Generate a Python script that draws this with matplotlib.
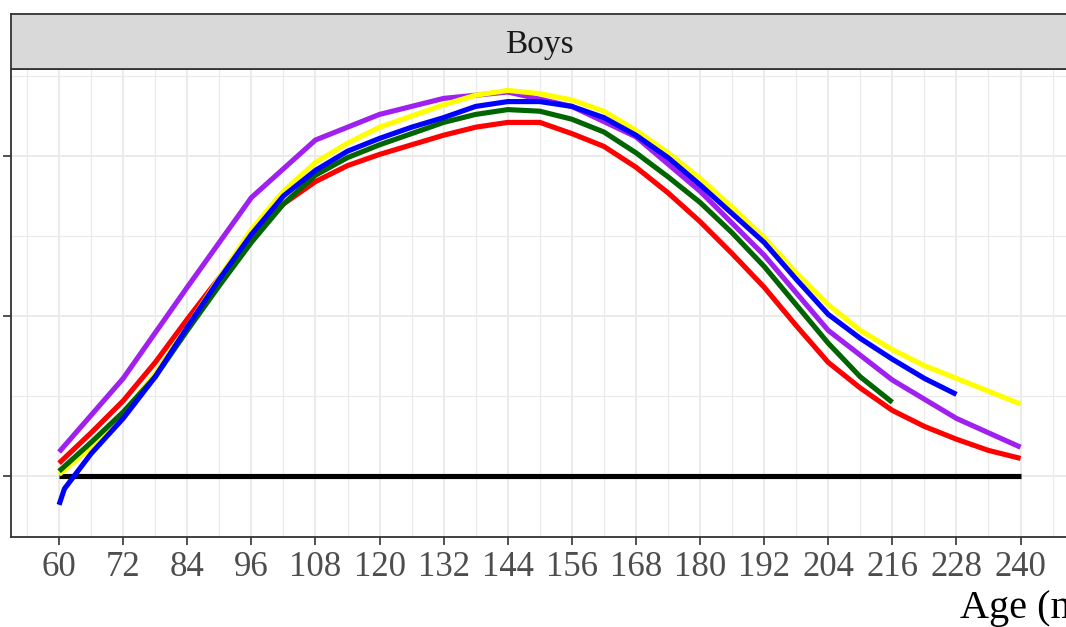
import matplotlib
matplotlib.use("Agg")
import matplotlib.pyplot as plt
import numpy as np

plt.rcParams['font.family'] = ['Liberation Serif', 'DejaVu Serif']

# ages in months
months6 = list(range(60, 241, 6))
months12 = list(range(60, 241, 12))

red = [0.08, 0.27, 0.47, 0.71, 0.98, 1.24, 1.49, 1.70, 1.84, 1.94, 2.01, 2.07,
       2.13, 2.18, 2.21, 2.21, 2.14, 2.06, 1.93, 1.77, 1.59, 1.39, 1.18, 0.94,
       0.71, 0.55, 0.41, 0.31, 0.23, 0.16, 0.11]

green_months = list(range(60, 217, 6))
green = [0.03, 0.21, 0.40, 0.62, 0.91, 1.19, 1.46, 1.70, 1.88, 1.99, 2.07, 2.14,
         2.21, 2.26, 2.29, 2.28, 2.23, 2.15, 2.02, 1.87, 1.71, 1.52, 1.31, 1.07,
         0.83, 0.62, 0.46]

yellow = [0.01, 0.18, 0.39, 0.64, 0.93, 1.24, 1.54, 1.78, 1.96, 2.08, 2.18, 2.25,
          2.32, 2.38, 2.41, 2.39, 2.35, 2.28, 2.16, 2.02, 1.86, 1.68, 1.49, 1.27,
          1.07, 0.91, 0.79, 0.69, 0.61, 0.53, 0.45]

blue_months = [60, 61] + list(range(66, 229, 6))
blue = [-0.18, -0.08, 0.14, 0.36, 0.62, 0.93, 1.23, 1.51, 1.75, 1.91, 2.03, 2.11,
        2.18, 2.24, 2.31, 2.34, 2.34, 2.31, 2.24, 2.13, 1.99, 1.82, 1.64, 1.46,
        1.23, 1.01, 0.86, 0.73, 0.61, 0.51]

purple = [0.15, 0.61, 1.18, 1.74, 2.10, 2.26, 2.36, 2.40, 2.31, 2.12, 1.78, 1.38,
          0.91, 0.60, 0.36, 0.18]

reference = [0, 0]
reference_months = [60, 240]

W, H = 1066, 627
fig = plt.figure(figsize=(W / 100, H / 100), dpi=100)

# panel (cropped on the right, as in the original)
ax = fig.add_axes([11 / W, (H - 537) / H, (1068.6 - 11) / W, (537 - 69) / H])
ax.set_facecolor('white')

lw = 3.7
ax.plot(reference_months, reference, color='black', lw=lw, solid_capstyle='butt', zorder=3)
ax.plot(months12, purple, color='#A020F0', lw=lw, solid_capstyle='butt', zorder=3)
ax.plot(months6, red, color='#FF0000', lw=lw, solid_capstyle='butt', zorder=3)
ax.plot(months6, yellow, color='#FFFF00', lw=lw, solid_capstyle='butt', zorder=3)
ax.plot(green_months, green, color='#006400', lw=lw, solid_capstyle='butt', zorder=3)
ax.plot(blue_months, blue, color='#0000FF', lw=lw, solid_capstyle='butt', zorder=3)

ax.set_xticks(months12)
ax.set_xticks(np.arange(54, 249, 12), minor=True)
ax.set_yticks([0, 1, 2])
ax.set_yticks([0.5, 1.5, 2.5], minor=True)
ax.set_yticklabels(['', '', ''])

# limits after the ticks so they are not widened
ax.set_xlim(51, 249)
ax.set_ylim(-0.38125, 2.54375)

ax.grid(True, which='major', color='#EBEBEB', lw=1.5, zorder=0)
ax.grid(True, which='minor', color='#EBEBEB', lw=0.9, zorder=0)
ax.set_axisbelow(True)

ax.tick_params(axis='both', which='major', length=6, width=1.2, color='#333333')
ax.tick_params(axis='both', which='minor', length=0)
ax.tick_params(axis='x', labelsize=25, labelcolor='#4D4D4D', pad=4)
for s in ax.spines.values():
    s.set_color('#333333')
    s.set_linewidth(1.3)

# facet strip
strip = fig.add_axes([11 / W, (H - 69) / H, (1068.6 - 11) / W, 55 / H])
strip.set_facecolor('#D9D9D9')
strip.set_xlim(11, 1068.6)
strip.set_ylim(0, 1)
strip.set_xticks([])
strip.set_yticks([])
for s in strip.spines.values():
    s.set_color('#333333')
    s.set_linewidth(1.3)
strip.text(539, 0.5, 'Boys', ha='center', va='center_baseline',
           fontsize=24, color='#1A1A1A')

fig.text(960 / W, (H - 618) / H, 'Age (months)', ha='left', va='baseline', fontsize=29)

fig.savefig('out.png', dpi=100)
